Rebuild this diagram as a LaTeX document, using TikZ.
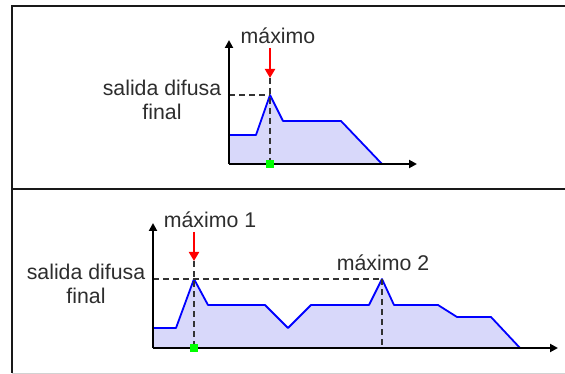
\documentclass[tikz,border=0pt]{standalone}
\usepackage{fontspec}
\setmainfont{Liberation Sans}
\usetikzlibrary{arrows.meta}
\definecolor{fillc}{RGB}{216,216,250}
\definecolor{txtc}{RGB}{45,45,45}
\tikzset{
  frameline/.style={line width=2.3pt, black!90},
  axisline/.style={line width=2.4pt, black, -{Triangle[length=8pt,width=8pt]}},
  curveline/.style={line width=1.8pt, blue, line join=round},
  areafill/.style={fill=fillc},
  dline/.style={line width=1.3pt, black!80, dash pattern=on 6pt off 4pt},
  redarrow/.style={line width=2pt, red, -{Triangle[length=9pt,width=10pt]}},
  lbl/.style={inner sep=0pt, text=txtc, font=\fontsize{21.3}{23.5}\selectfont, align=center},
  gsq/.style={fill=green, minimum size=7.5pt, inner sep=0pt, draw=none}
}
\begin{document}
\begin{tikzpicture}[x=1pt,y=-1pt]
\useasboundingbox (0,0) rectangle (565,374);
% frame
\coordinate (ftl) at (12,6);
\coordinate (ftr) at (565,6);
\coordinate (fml) at (12,189);
\coordinate (fmr) at (565,189);
\coordinate (fbl) at (12,373);
\coordinate (fbr) at (565,373);
\draw[gray!35, line width=1pt] (fbl) -- (fbr);
\draw[frameline] (ftr) -- (ftl) -- (fbl);
\draw[frameline] (fml) -- (fmr);

% ---------- top panel ----------
\coordinate (o1) at (229,164);
\coordinate (y1) at (229,40);
\coordinate (x1) at (417,164);
\coordinate (p1) at (270,95);
\fill[areafill] (229,164) -- (229,135) -- (256,135) -- (270,95) -- (283,121) -- (341,121) -- (382,164) -- cycle;
\draw[curveline] (229,135) -- (256,135) -- (p1) -- (283,121) -- (341,121) -- (382,164);
\node[gsq] (g1) at (270,164) {};
\coordinate (r1s) at (270,48);
\coordinate (r1e) at (270,78);
\draw[dline] (o1 |- p1) -- (p1);
\draw[dline] (r1e) -- (g1.north);
\draw[axisline] (o1) -- (y1);
\draw[axisline] (o1) -- (x1);
\node[gsq] at (g1) {};
\draw[redarrow] (r1s) -- (r1e);
\node[lbl] (max) at (278,36) {máximo};
\node[lbl] (sdf1) at (162,100) {salida difusa\\final};

% ---------- bottom panel ----------
\coordinate (o2) at (153,348);
\coordinate (y2) at (153,223);
\coordinate (x2) at (558,348);
\coordinate (pa) at (194,279);
\coordinate (pb) at (382,279);
\fill[areafill] (153,348) -- (153,328) -- (176,328) -- (194,279) -- (208,305) -- (265,305) -- (288,328) -- (311,305) -- (369,305) -- (382,279) -- (394,305) -- (438,305) -- (457,317) -- (491,317) -- (520,348) -- cycle;
\draw[curveline] (153,328) -- (176,328) -- (pa) -- (208,305) -- (265,305) -- (288,328) -- (311,305) -- (369,305) -- (pb) -- (394,305) -- (438,305) -- (457,317) -- (491,317) -- (520,348);
\node[gsq] (g2) at (194,348) {};
\coordinate (r2s) at (194,232);
\coordinate (r2e) at (194,261);
\coordinate (b2) at (382,348);
\draw[dline] (o2 |- pa) -- (pb);
\draw[dline] (r2e) -- (g2.north);
\draw[dline] (pb) -- (b2);
\draw[axisline] (o2) -- (y2);
\draw[axisline] (o2) -- (x2);
\node[gsq] at (g2) {};
\draw[redarrow] (r2s) -- (r2e);
\node[lbl] (max1) at (210,220) {máximo 1};
\node[lbl] (max2) at (383,263) {máximo 2};
\node[lbl] (sdf2) at (86,284) {salida difusa\\final};
\end{tikzpicture}
\end{document}
